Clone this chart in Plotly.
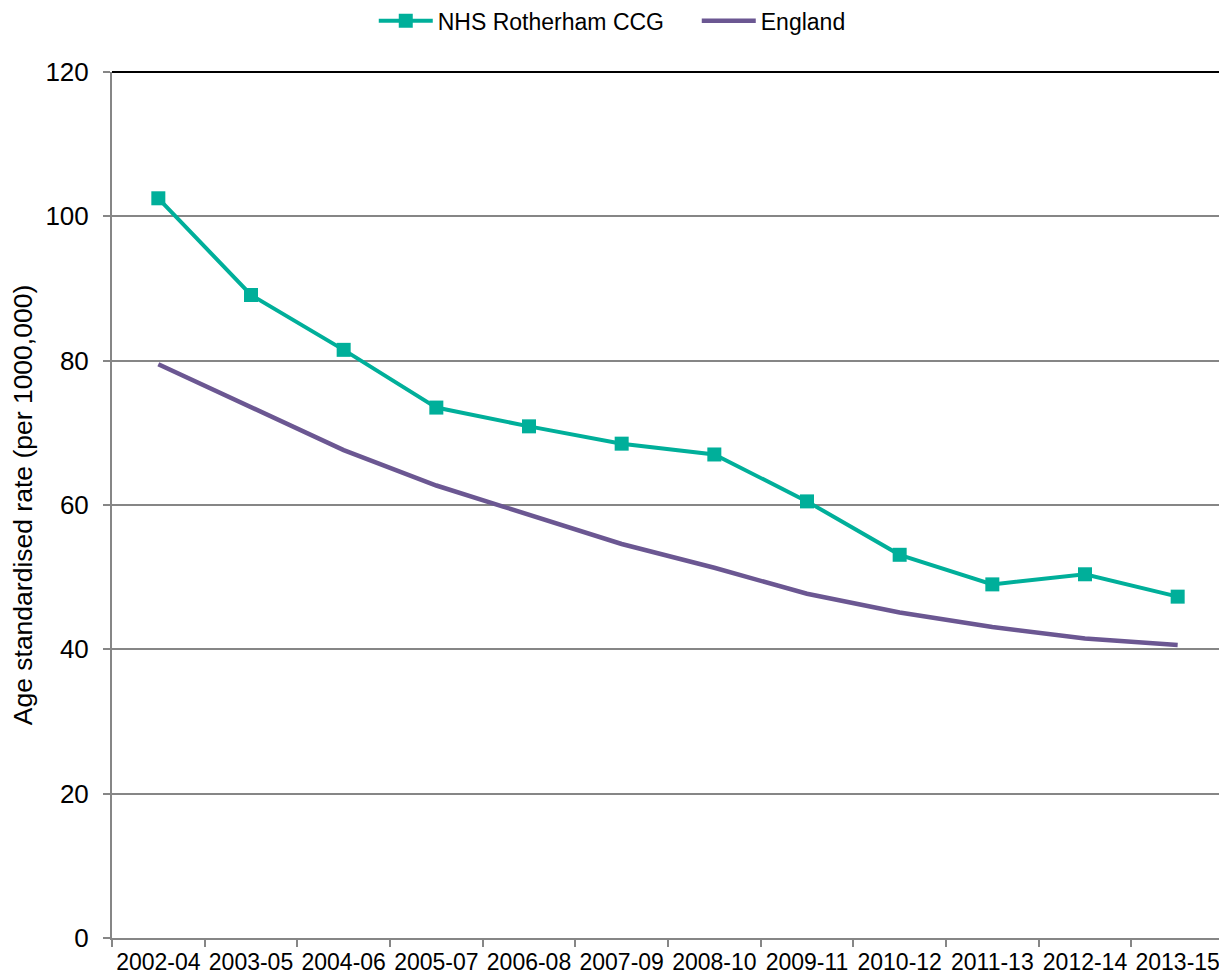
import plotly.graph_objects as go

periods = ["2002-04", "2003-05", "2004-06", "2005-07", "2006-08", "2007-09",
           "2008-10", "2009-11", "2010-12", "2011-13", "2012-14", "2013-15"]
rotherham = [102.5, 89.1, 81.5, 73.5, 70.9, 68.5, 67.0, 60.5, 53.1, 49.0, 50.4, 47.3]
england = [79.5, 73.5, 67.6, 62.7, 58.7, 54.6, 51.3, 47.7, 45.1, 43.1, 41.5, 40.6]
y_ticks = [0, 20, 40, 60, 80, 100, 120]

TEAL = "#00AF9A"
PURPLE = "#6B5792"
GRID = "#868686"
FONT = "Liberation Sans, Arial, sans-serif"

fig = go.Figure()
fig.add_trace(go.Scatter(
    x=periods, y=rotherham, name="NHS Rotherham CCG", mode="lines+markers",
    line=dict(color=TEAL, width=4),
    marker=dict(symbol="square", size=14, color=TEAL),
))
fig.add_trace(go.Scatter(
    x=periods, y=england, name="England", mode="lines",
    line=dict(color=PURPLE, width=4.5),
))

# the page adds an 8px body margin, so the figure is drawn 8px smaller
fig.update_layout(
    width=1219, height=970,
    margin=dict(l=104, r=3, t=64, b=40, autoexpand=False),
    paper_bgcolor="white", plot_bgcolor="white",
    font=dict(family=FONT, size=24, color="black"),
    showlegend=True,
    legend=dict(orientation="h", x=0.2354, xanchor="left", y=1.059, yanchor="middle",
                yref="paper", font=dict(size=23), itemwidth=54, entrywidth=254,
                bgcolor="rgba(0,0,0,0)", tracegroupgap=0),
    xaxis=dict(
        type="category", range=[-0.5, 11.5], automargin=False,
        showgrid=False, showline=True, linecolor=GRID, linewidth=2,
        ticks="outside", tickson="boundaries", ticklen=7, tickcolor=GRID, tickwidth=2,
        tickangle=0,
        tickfont=dict(size=23, family=FONT, color="black"),
        ticklabelstandoff=2,
    ),
    yaxis=dict(
        range=[0, 120], tickvals=y_ticks, automargin=False,
        showgrid=True, gridcolor=GRID, gridwidth=1.5,
        showline=True, linecolor=GRID, linewidth=2,
        ticks="outside", ticklen=7, tickcolor=GRID, tickwidth=2,
        tickfont=dict(size=26, family=FONT, color="black"),
        ticklabelstandoff=9,
        zeroline=False,
        title=dict(text="Age standardised rate (per 1000,000)", font=dict(size=26.5, family=FONT),
                   standoff=18),
    ),
)

# black plot-area border on top and right
fig.add_shape(type="line", xref="paper", yref="paper", x0=0, x1=1, y0=1, y1=1,
              line=dict(color="black", width=2), layer="above")
fig.add_shape(type="line", xref="paper", yref="paper", x0=1, x1=1, y0=0, y1=1,
              line=dict(color="black", width=2), layer="above")

fig.write_html("out.html")
